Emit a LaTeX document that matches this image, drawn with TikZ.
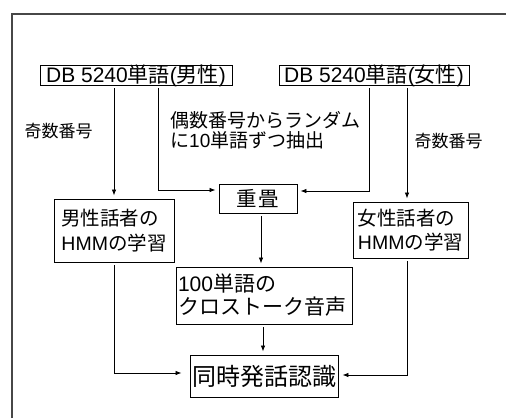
\documentclass[tikz,border=0pt]{standalone}
\usepackage{fontspec}
\setmainfont{Noto Sans CJK JP}
\newfontfamily\lat{Liberation Sans}
\newcommand\la[1]{{\lat #1}}
\usetikzlibrary{arrows.meta,calc}
\tikzset{
  box/.style={draw=black, line width=0.9pt, inner sep=1pt},
  arr/.style={-{Latex[length=6pt,width=4.5pt]}, line width=0.8pt, shorten <=3pt, shorten >=3pt},
  lbl/.style={inner sep=0pt},
  frame/.style={draw=black!72, line width=1.8pt},
}
\begin{document}
\begin{tikzpicture}[x=1pt,y=-1pt]
\useasboundingbox (0,0) rectangle (506,418);
\fill[white] (0,0) rectangle (506,418);
\draw[frame] (12,418) -- (12,14) -- (506,14);

% boxes
\node[box, minimum width=192pt, minimum height=20pt, text height=16pt, text depth=2pt,
      font=\fontsize{21}{24}\selectfont] (box1) at (136,75) {\la{DB 5240}単語\la{(}男性\la{)}};
\node[box, minimum width=190pt, minimum height=20pt, text height=16pt, text depth=2pt,
      font=\fontsize{21}{24}\selectfont] (box2) at (374,75) {\la{DB 5240}単語\la{(}女性\la{)}};
\node[box, minimum width=78pt, minimum height=29pt, text height=17.6pt, text depth=2.4pt,
      font=\fontsize{20.5}{24}\selectfont] (sum) at (258,198.5) {重\hspace{2pt}畳};
\node[box, minimum width=120pt, minimum height=63pt, align=left,
      font=\fontsize{19.5}{25}\selectfont] (male) at (114,230.5) {男性話者の\\\la{HMM}の学習};
\node[box, minimum width=115pt, minimum height=56pt, align=left,
      font=\fontsize{19.5}{24}\selectfont] (female) at (410.5,230) {女性話者の\\\la{HMM}の学習};
\node[box, minimum width=176pt, minimum height=57pt, text width=172pt, inner xsep=2pt, align=left,
      font=\fontsize{21}{23}\selectfont] (hundred) at (264,295.5) {\la{100}単語の\\クロストーク音声};
\node[box, minimum width=148pt, minimum height=42pt, text height=21pt, text depth=3pt,
      font=\fontsize{24}{27}\selectfont] (final) at (264,376) {同時発話認識};

% labels
\node[lbl, font=\fontsize{17}{20}\selectfont] (lodd) at (58.5,131) {奇数番号};
\node[lbl, font=\fontsize{17}{20}\selectfont] (rodd) at (448.5,141.5) {奇数番号};
\node[lbl, anchor=west, align=left, font=\fontsize{19}{20}\selectfont] (mid) at (170,130)
  {偶数番号からランダム\\に\la{10}単語ずつ抽出};

% bend coordinates
\coordinate (c1) at (158,190);
\coordinate (c2) at (369,191);
\coordinate (c3) at (407,0);
\coordinate (c4) at (261,0);
\coordinate (c5) at (263,0);
\coordinate (c6) at (0,373);
\coordinate (c7) at (0,375);

% connectors
\draw[arr] (box1.south -| male.north) -- (male.north);
\draw[arr] (box1.south -| c1) |- (sum.west |- c1);
\draw[arr] (box2.south -| c2) |- (sum.east |- c2);
\draw[arr] (box2.south -| c3) -- (female.north -| c3);
\draw[arr] (sum.south -| c4) -- (hundred.north -| c4);
\draw[arr] (hundred.south -| c5) -- (final.north -| c5);
\draw[arr, shorten >=8pt] (male.south) |- (final.west |- c6);
\draw[arr, shorten >=4pt] (female.south -| c3) |- (final.east |- c7);
\end{tikzpicture}
\end{document}
